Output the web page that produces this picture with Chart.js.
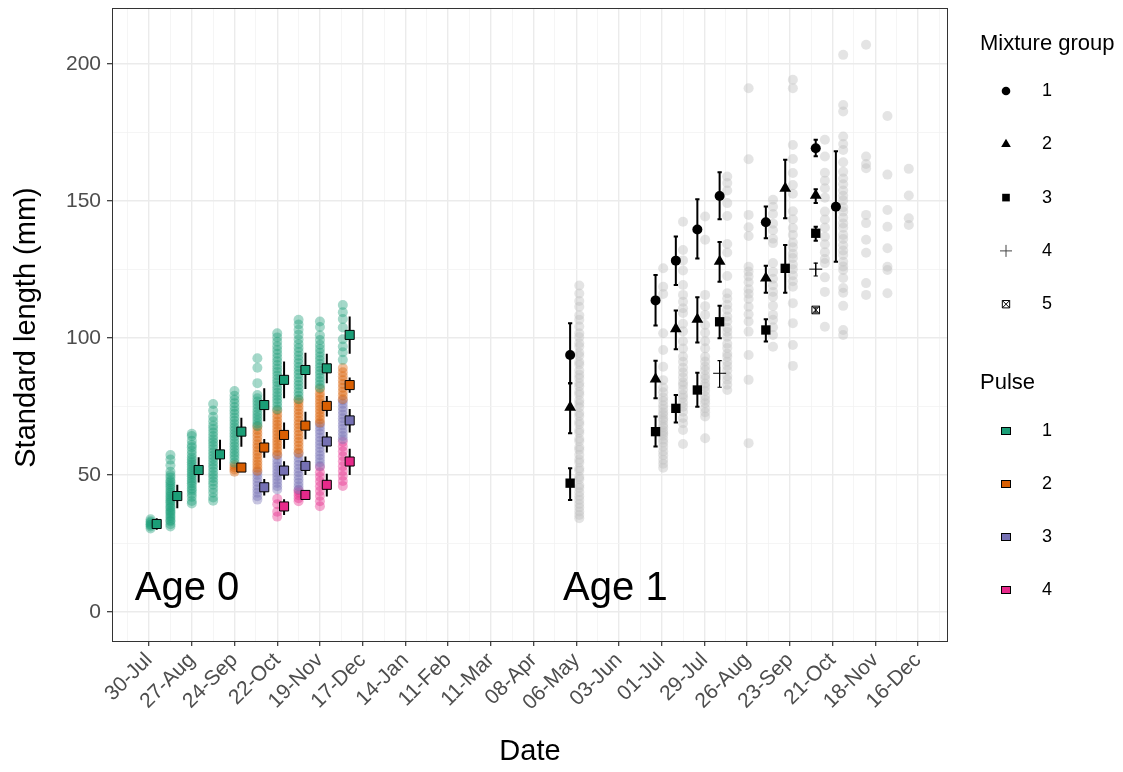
<!DOCTYPE html>
<html>
<head>
<meta charset="utf-8">
<script src="https://cdn.jsdelivr.net/npm/chart.js@4.4.1/dist/chart.umd.min.js"></script>
<style>
  html, body { margin: 0; padding: 0; background: #fff; }
  #wrap { width: 1123px; height: 772px; }
</style>
</head>
<body>
<div id="wrap"><canvas id="growth" width="1123" height="772"></canvas></div>
<script>
// x values are days counted from 30 July of the age-0 year
const dateLabels = ['30-Jul', '27-Aug', '24-Sep', '22-Oct', '19-Nov', '17-Dec', '14-Jan', '11-Feb', '11-Mar', '08-Apr',
  '06-May', '03-Jun', '01-Jul', '29-Jul', '26-Aug', '23-Sep', '21-Oct', '18-Nov', '16-Dec'];

// ---- age 0: individual fish by pulse, one list per sampling day ----
const age0Days = [1, 14, 28, 42, 56, 71, 84, 98, 112, 127];

const pulse1Raw = [
  [30.5, 31.2, 32, 32.6, 33.1, 33.8, 31.7],
  [31.2, 32, 33, 33.5, 34.4, 35, 35.8, 36.5, 37, 37.9, 38.4, 39.2, 40, 40.6, 41.3, 42, 42.7, 43.5, 44.1, 45, 45.8, 46.5, 47.3, 48, 49.1, 50, 51.2, 53.5, 55.6, 57.3],
  [39.6, 40.5, 42, 43.1, 44.2, 45, 46.1, 47, 47.8, 48.6, 49.5, 50.3, 51.2, 52, 52.9, 53.8, 54.6, 55.5, 56.4, 57.6, 58.8, 60.1, 61, 62.5, 64.2, 65],
  [40.6, 41.8, 43.5, 45, 46.4, 47.6, 48.9, 50, 51.2, 52.5, 53.6, 54.8, 56, 57.1, 58.3, 59.5, 60.7, 61.9, 63, 64.2, 65.5, 66.8, 68, 69.6, 71.2, 73.5, 75.9],
  [54.5, 55.8, 57, 58.1, 59.3, 60.5, 61.6, 62.8, 64, 65.1, 66.3, 67.4, 68.6, 69.8, 71, 72.3, 73.5, 74.8, 76.2, 77.5, 78.9, 80.6],
  [67.9, 68.8, 69.9, 71, 72.1, 73.2, 74.4, 75.6, 76.8, 78, 79.2, 83.5, 89.1, 92.6],
  [73.9, 75.1, 76.4, 77.6, 78.8, 80, 81.3, 82.5, 83.8, 85, 86.3, 87.6, 88.8, 90.1, 91.5, 92.8, 94.2, 95.6, 97, 98.6, 100.2, 101.7],
  [77.6, 78.9, 80.2, 81.5, 82.8, 84.1, 85.5, 86.8, 88.1, 89.4, 90.8, 92.1, 93.5, 94.9, 96.3, 97.8, 99.4, 101.2, 103, 104.9, 106.6],
  [81.8, 83, 84.3, 85.5, 86.8, 88, 89.3, 90.6, 91.9, 93.2, 94.6, 96, 97.5, 99.2, 101, 104, 106],
  [92, 94.8, 96.9, 99.5, 103.8, 106.9, 109.4, 112]
];
const pulse2Raw = [
  [], [], [], [],
  [51.2, 52, 52.8, 53.6],
  [51.5, 52.6, 53.8, 55, 56.2, 57.5, 58.7, 60, 61.2, 62.5, 63.8, 65.1, 66.4, 67.6],
  [57.5, 58.7, 59.9, 61.1, 62.3, 63.5, 64.7, 65.9, 67.1, 68.3, 69.5, 70.8, 72.1, 73.5],
  [58.1, 59.4, 60.7, 62, 63.3, 64.6, 65.9, 67.2, 68.5, 69.8, 71.1, 72.4, 73.7, 75, 76.3, 77.4],
  [69.1, 70.2, 71.4, 72.6, 73.8, 75, 76.2, 77.4, 78.6, 79.8, 81.4],
  [77.6, 79, 80.4, 81.8, 83.2, 84.6, 86, 87.5, 89]
];
const pulse3Raw = [
  [], [], [], [], [],
  [41, 42.2, 43.5, 44.8, 46.1, 47.4, 48.7, 50, 51.1],
  [44.7, 45.9, 47.1, 48.3, 49.5, 50.7, 51.9, 53.1, 54.3, 55.6, 57.1],
  [44.7, 45.9, 47.1, 48.4, 49.7, 51, 52.3, 53.6, 54.9, 56.3, 57.7],
  [53.3, 54.6, 55.9, 57.2, 58.5, 59.8, 61.1, 62.4, 63.7, 65, 66.3, 67.6, 68.7],
  [63, 64.2, 65.5, 66.8, 68.1, 69.4, 70.7, 72, 73.3, 74.6, 76, 77.2]
];
const pulse4Raw = [
  [], [], [], [], [], [],
  [34.8, 36.6, 39.3, 41.3],
  [40.4, 41.5, 42.6, 43.6, 44.4],
  [38.6, 40.4, 42.3, 44.1, 45.9, 47.6, 49.3, 51, 52.9],
  [46, 47.8, 49.6, 51.4, 53.2, 55, 56.8, 58.6, 60.4, 62.1]
];

// pulse means with error bars, drawn just right of each sample
const pulseMeanDays = [5, 18.5, 32.5, 46.5, 60.5, 75.5, 88.5, 102.5, 116.5, 131.5];
const pulse1Mean = [32.1, 42.3, 51.8, 57.5, 65.8, 75.5, 84.7, 88.3, 88.9, 101.1];
const pulse1Lo   = [30, 37.8, 47.2, 51.8, 60.3, 69.6, 78, 81.4, 83.5, 94.2];
const pulse1Hi   = [34.2, 46.4, 56.5, 62.8, 70.9, 81.6, 91.4, 94.6, 94.2, 107.8];
const pulse2Mean = [null, null, null, null, 52.7, 60, 64.6, 68, 75.2, 82.8];
const pulse2Lo   = [null, null, null, null, 52, 56.3, 59.6, 63, 71.3, 80];
const pulse2Hi   = [null, null, null, null, 53.4, 63.1, 69.1, 73.1, 78.8, 85.6];
const pulse3Mean = [null, null, null, null, null, 45.5, 51.6, 53.3, 62.2, 69.9];
const pulse3Lo   = [null, null, null, null, null, 42.5, 48.2, 50, 58.2, 65.5];
const pulse3Hi   = [null, null, null, null, null, 48.5, 55, 56.7, 65.7, 74.1];
const pulse4Mean = [null, null, null, null, null, null, 38.5, 42.7, 46.4, 54.9];
const pulse4Lo   = [null, null, null, null, null, null, 35.4, 41.5, 42.1, 50];
const pulse4Hi   = [null, null, null, null, null, null, 41.1, 44, 50.4, 59.6];

// ---- age 1: individual fish (grey) ----
const age1Days = [282, 337, 350, 364.5, 379, 393, 409, 422, 443, 455, 470, 484, 498];
const age1Raw = [
  [119.1, 116.2, 113.5, 111.4, 108.3, 106.6, 104.2, 101.7, 100.3, 98.1, 96.9, 94.6, 93.5, 91.2, 90.3, 88.1, 86.6, 85.4, 83.5, 82.4, 80.3, 79.4, 77.2, 76.1, 74.7, 72.6,
   71.5, 69.4, 68.5, 66.3, 65.4, 63.2, 62.3, 60.1, 59.2, 57.4, 55.6, 54.5, 52.4, 51.5, 49.3, 48.4, 46.2, 45.3, 43.7, 42.2, 40.9, 39.4, 38.1, 36.7, 35.4, 34.2],
  [125.4, 118.7, 116, 101.7, 95.6, 89.5, 84.6, 81.9, 80.2, 78.3, 77, 75.4, 74.1, 72.8, 71.9, 70.6, 69.8, 68.3, 67.4, 66.1, 65.2, 64.3, 62.9, 61.8, 60.3, 58.6, 57.2, 55.5, 54.1, 52.6],
  [142.4, 132.1, 128.3, 124.6, 119.3, 115.7, 113.2, 110.8, 109.1, 105.2, 102.4, 98.8, 96.1, 93.2, 91.3, 89.1, 87.4, 85.6, 83.8, 82.7, 81.1, 79.3, 78.2, 76.4, 74.9, 73.1, 70.8, 68.9, 66.4, 61.3],
  [144.3, 135.8, 115.7, 111.6, 108.4, 104.7, 101.9, 98.8, 96.2, 93.1, 91.4, 89.6, 88.2, 86.3, 85.1, 83.4, 82.2, 80.6, 78.8, 77.4, 76.2, 74.3, 72.9, 71.3, 63.4],
  [158.9, 156.5, 153.8, 149.2, 144.5, 134.3, 131.2, 122.6, 116.3, 114.4, 112.1, 110.3, 107.8, 106.1, 103.7, 102.2, 100.4, 97.9, 96.3, 94.2, 93.1, 91.3, 89.8, 88.2, 86.1, 84.7, 82.9, 81],
  [191.1, 165.2, 144.9, 140.4, 137.2, 126, 124.2, 122.4, 120.3, 117.8, 116.1, 114.2, 111.4, 108.6, 106, 102.3, 93.8, 84.7, 61.6],
  [150.4, 147.9, 145.2, 141.7, 139.3, 136.2, 134.6, 127.3, 124.1, 121.6, 119.2, 116.8, 115, 111.7, 108.4, 106.6, 103.9, 101.1, 96.8],
  [194.2, 191.1, 170.4, 165.3, 160.2, 155.8, 152.6, 146.2, 143.3, 140.1, 137.6, 134.8, 133.1, 130.7, 129.2, 126.8, 125.1, 122.9, 120.7, 118.7, 112.7, 105.4, 97.4, 89.8],
  [172.3, 166.2, 160.3, 157.4, 154.6, 151.2, 146.1, 143.2, 140.3, 136.9, 134.2, 131.3, 128.8, 127.3, 122.1, 116.8, 104.1],
  [203.3, 185, 182.6, 173.5, 170.8, 168.6, 164.1, 160.6, 158.2, 156.1, 153.8, 151.9, 150.2, 147.7, 146.1, 143.9, 141.8, 140.2, 137.6, 136.1, 133.8, 131.9, 130.3, 127.8,
   126.1, 124.8, 121.9, 118.2, 116.5, 111.7, 102.9, 101.1],
  [207, 166.2, 163.5, 161.9, 144.9, 141.9, 135.8, 131.1, 120, 115.7],
  [181, 159.6, 146.7, 140.6, 132.7, 126, 124.8, 116.3],
  [161.7, 152, 143.7, 141.2]
];

// mixture-group means with error bars (age 1)
const groupDays  = [276, 332, 345.3, 359.4, 374, 404.3, 417, 437, 450.2];
const group1Mean = [93.8, 113.7, 128.2, 139.6, 151.8, 142.2, null, 169.2, 147.9];
const group1Lo   = [83.5, 104.5, 119.3, 129, 143.3, 136.4, null, 166.3, 127.8];
const group1Hi   = [105.4, 123, 137, 150.6, 160.5, 148, null, 172.3, 168.1];
const group2Mean = [74.7, 85, 103.3, 106.8, 127.9, 121.8, 154.6, 152, null];
const group2Lo   = [65.2, 78, 95.9, 98.3, 120.5, 116.5, 143.7, 149.2, null];
const group2Hi   = [83.5, 91.7, 110, 114.8, 135, 126.3, 165, 154.3, null];
const group3Mean = [47, 65.8, 74.3, 81, 105.9, 102.9, 125.4, 138.2, null];
const group3Lo   = [40.9, 60.4, 69.1, 74.9, 99.9, 98.7, 116.5, 135.5, null];
const group3Hi   = [52.4, 71.3, 79.2, 87.3, 111.7, 106.8, 133.9, 140.6, null];
const group4Mean = [null, null, null, null, 87.1, null, null, 125.1, null];
const group4Lo   = [null, null, null, null, 82, null, null, 122.6, null];
const group4Hi   = [null, null, null, null, 91.7, null, null, 127.3, null];
const group5Mean = [null, null, null, null, null, null, null, 110.2, null];
const group5Lo   = [null, null, null, null, null, null, null, 109.4, null];
const group5Hi   = [null, null, null, null, null, null, null, 111, null];

const groupLabels = ['1', '2', '3', '4', '5'];
const pulseLabels = ['1', '2', '3', '4'];
const pulseColors = ['#1B9E77', '#D95F02', '#7570B3', '#E7298A'];
const pulseFaded  = ['rgba(27,158,119,0.4)', 'rgba(217,95,2,0.4)', 'rgba(117,112,179,0.4)', 'rgba(231,41,138,0.4)'];

const FONT = "'Liberation Sans', Arial, sans-serif";

// flatten per-day lists into scatter points
function rawPoints(days, lists) {
  const out = [];
  lists.forEach((vals, i) => vals.forEach(v => out.push({ x: days[i], y: v })));
  return out;
}

function meanPoints(days, means) {
  const out = [];
  means.forEach((m, i) => { if (m != null) out.push({ x: days[i], y: m }); });
  return out;
}

// vertical bars split by null gaps; optional caps half-width in days
function barSegments(days, lo, hi, cap) {
  const out = [];
  lo.forEach((l, i) => {
    if (l == null) return;
    const d = days[i];
    out.push({ x: d, y: l }, { x: d, y: hi[i] }, { x: d, y: null });
    if (cap) {
      out.push({ x: d - cap, y: hi[i] }, { x: d + cap, y: hi[i] }, { x: d, y: null });
      out.push({ x: d - cap, y: l }, { x: d + cap, y: l }, { x: d, y: null });
    }
  });
  return out;
}

function barDataset(data) {
  return {
    type: 'line', data, order: 2,
    borderColor: '#000', borderWidth: 2, borderCapStyle: 'butt',
    pointRadius: 0, spanGaps: false, fill: false, tension: 0
  };
}

function markerDataset(data, style, radius, fillColor, borderColor, borderWidth) {
  return {
    data, order: 1, pointStyle: style, pointRadius: radius,
    backgroundColor: fillColor, borderColor: borderColor, borderWidth: borderWidth
  };
}

const datasets = [];

// raw fish, faint
datasets.push({ data: rawPoints(age1Days, age1Raw), order: 6, pointRadius: 5, borderWidth: 0, backgroundColor: 'rgba(190,190,190,0.42)' });
[pulse1Raw, pulse2Raw, pulse3Raw, pulse4Raw].forEach((lists, k) => {
  datasets.push({ data: rawPoints(age0Days, lists), order: 5, pointRadius: 5, borderWidth: 0, backgroundColor: pulseFaded[k] });
});

// error bars
const pulseMeans = [pulse1Mean, pulse2Mean, pulse3Mean, pulse4Mean];
const pulseLos = [pulse1Lo, pulse2Lo, pulse3Lo, pulse4Lo];
const pulseHis = [pulse1Hi, pulse2Hi, pulse3Hi, pulse4Hi];
pulseMeans.forEach((_, k) => datasets.push(barDataset(barSegments(pulseMeanDays, pulseLos[k], pulseHis[k], 0))));
datasets.push(barDataset(barSegments(groupDays, group1Lo, group1Hi, 1.4)));
datasets.push(barDataset(barSegments(groupDays, group2Lo, group2Hi, 1.4)));
datasets.push(barDataset(barSegments(groupDays, group3Lo, group3Hi, 1.4)));
datasets.push(Object.assign(barDataset(barSegments(groupDays, group4Lo, group4Hi, 1.4)), { borderWidth: 1.2 }));
datasets.push(Object.assign(barDataset(barSegments(groupDays, group5Lo, group5Hi, 1.4)), { borderWidth: 1 }));

// means
pulseMeans.forEach((m, k) => datasets.push(markerDataset(meanPoints(pulseMeanDays, m), 'rect', 6.4, pulseColors[k], '#000', 1)));
datasets.push(markerDataset(meanPoints(groupDays, group1Mean), 'circle', 5, '#000', '#000', 0));
datasets.push(markerDataset(meanPoints(groupDays, group2Mean), 'triangle', 6.8, '#000', '#000', 0));
datasets.push(markerDataset(meanPoints(groupDays, group3Mean), 'rect', 6.6, '#000', '#000', 0));
datasets.push(markerDataset(meanPoints(groupDays, group4Mean), 'cross', 6.5, '#000', '#000', 1));
datasets.push(markerDataset(meanPoints(groupDays, group5Mean), 'rect', 5.4, 'rgba(0,0,0,0)', '#000', 1));
datasets.push(markerDataset(meanPoints(groupDays, group5Mean), 'crossRot', 5.4, 'rgba(0,0,0,0)', '#000', 1));

// panel border, titles, age labels and the two legends
const decorations = {
  id: 'decorations',
  afterDatasetsDraw(chart) {
    const { ctx, chartArea: a, scales } = chart;
    ctx.save();
    ctx.fillStyle = '#000';
    ctx.font = `40px ${FONT}`;
    ctx.textBaseline = 'alphabetic';
    ctx.textAlign = 'left';
    ctx.fillText('Age 0', scales.x.getPixelForValue(-9.4), scales.y.getPixelForValue(4.4));
    ctx.fillText('Age 1', scales.x.getPixelForValue(271.4), scales.y.getPixelForValue(4.4));

    ctx.strokeStyle = '#333333';
    ctx.lineWidth = 1;
    ctx.strokeRect(Math.round(a.left) + 0.5, Math.round(a.top) + 0.5, Math.round(a.right - a.left) - 1, Math.round(a.bottom - a.top));
    ctx.restore();
  },
  afterDraw(chart) {
    const { ctx, chartArea: a } = chart;
    const H = Chart.helpers;
    ctx.save();
    ctx.fillStyle = '#000';
    ctx.textBaseline = 'middle';

    // axis titles
    ctx.font = `29px ${FONT}`;
    ctx.textAlign = 'center';
    ctx.fillText('Date', (a.left + a.right) / 2, 752);
    ctx.save();
    ctx.translate(27, (a.top + a.bottom) / 2 + 3);
    ctx.rotate(-Math.PI / 2);
    ctx.fillText('Standard length (mm)', 0, 0);
    ctx.restore();

    // mixture group legend
    ctx.textAlign = 'left';
    ctx.font = `22px ${FONT}`;
    ctx.fillText('Mixture group', 980, 44);
    ctx.fillText('Pulse', 980, 383);
    ctx.font = `18px ${FONT}`;
    const keyX = 1006;
    const shapes = [
      { pointStyle: 'circle', radius: 4.3, borderWidth: 0, fill: true },
      { pointStyle: 'triangle', radius: 5.6, borderWidth: 0, fill: true },
      { pointStyle: 'rect', radius: 5.4, borderWidth: 0, fill: true },
      { pointStyle: 'cross', radius: 6, borderWidth: 1, fill: false },
      { pointStyle: 'rect', radius: 5.2, borderWidth: 1, fill: false }
    ];
    groupLabels.forEach((lab, i) => {
      const y = 91 + i * 53.3;
      const s = shapes[i];
      ctx.save();
      ctx.fillStyle = s.fill ? '#000' : 'rgba(0,0,0,0)';
      ctx.strokeStyle = i === 3 ? '#444' : '#000';
      ctx.lineWidth = s.borderWidth;
      H.drawPoint(ctx, { pointStyle: s.pointStyle, radius: s.radius, borderWidth: s.borderWidth, rotation: 0 }, keyX, y);
      if (i === 4) {
        H.drawPoint(ctx, { pointStyle: 'crossRot', radius: 5.2, borderWidth: 1, rotation: 0 }, keyX, y);
      }
      ctx.restore();
      ctx.fillText(lab, 1042, y);
    });

    // pulse legend
    pulseLabels.forEach((lab, i) => {
      const y = 431 + i * 53;
      ctx.fillStyle = pulseColors[i];
      ctx.fillRect(keyX - 5, y - 4, 10, 8);
      ctx.strokeStyle = '#000';
      ctx.lineWidth = 1;
      ctx.strokeRect(keyX - 5 + 0.5, y - 4 + 0.5, 9, 7);
      ctx.fillStyle = '#000';
      ctx.fillText(lab, 1042, y);
    });
    ctx.restore();
  }
};

const isMajorX = v => v % 28 === 0;
const isMajorY = v => v % 50 === 0;

new Chart(document.getElementById('growth'), {
  type: 'scatter',
  data: { datasets },
  options: {
    responsive: false,
    animation: false,
    events: [],
    layout: { padding: { top: 8, right: 175, left: 0, bottom: 0 } },
    plugins: { legend: { display: false }, tooltip: { enabled: false } },
    scales: {
      x: {
        type: 'linear',
        min: -24.3,
        max: 523.7,
        afterBuildTicks(scale) {
          const t = [];
          for (let v = -14; v <= 518; v += 14) t.push({ value: v });
          scale.ticks = t;
        },
        afterFit(scale) {
          scale.height = 131;
          scale.paddingLeft = 0;
          scale.paddingRight = 0;
        },
        ticks: {
          autoSkip: false,
          minRotation: 45,
          maxRotation: 45,
          padding: 2,
          color: '#4D4D4D',
          font: { family: FONT, size: 21 },
          callback: v => (isMajorX(v) ? dateLabels[v / 28] : '')
        },
        grid: {
          color: c => (isMajorX(c.tick.value) ? '#EBEBEB' : '#F3F3F3'),
          lineWidth: c => (isMajorX(c.tick.value) ? 1.4 : 0.8),
          tickColor: c => (isMajorX(c.tick.value) ? '#333333' : 'rgba(0,0,0,0)'),
          tickWidth: 1.2,
          tickLength: 5
        },
        border: { display: false }
      },
      y: {
        min: -10.6,
        max: 220.4,
        afterBuildTicks(scale) {
          const t = [];
          for (let v = 0; v <= 200; v += 25) t.push({ value: v });
          scale.ticks = t;
        },
        afterFit(scale) {
          scale.width = 112;
          scale.paddingTop = 0;
          scale.paddingBottom = 0;
        },
        ticks: {
          autoSkip: false,
          padding: 6,
          color: '#4D4D4D',
          font: { family: FONT, size: 21 },
          callback: v => (isMajorY(v) ? String(v) : '')
        },
        grid: {
          color: c => (isMajorY(c.tick.value) ? '#EBEBEB' : '#F3F3F3'),
          lineWidth: c => (isMajorY(c.tick.value) ? 1.4 : 0.8),
          tickColor: c => (isMajorY(c.tick.value) ? '#333333' : 'rgba(0,0,0,0)'),
          tickWidth: 1.2,
          tickLength: 5
        },
        border: { display: false }
      }
    }
  },
  plugins: [decorations]
});
</script>
</body>
</html>
